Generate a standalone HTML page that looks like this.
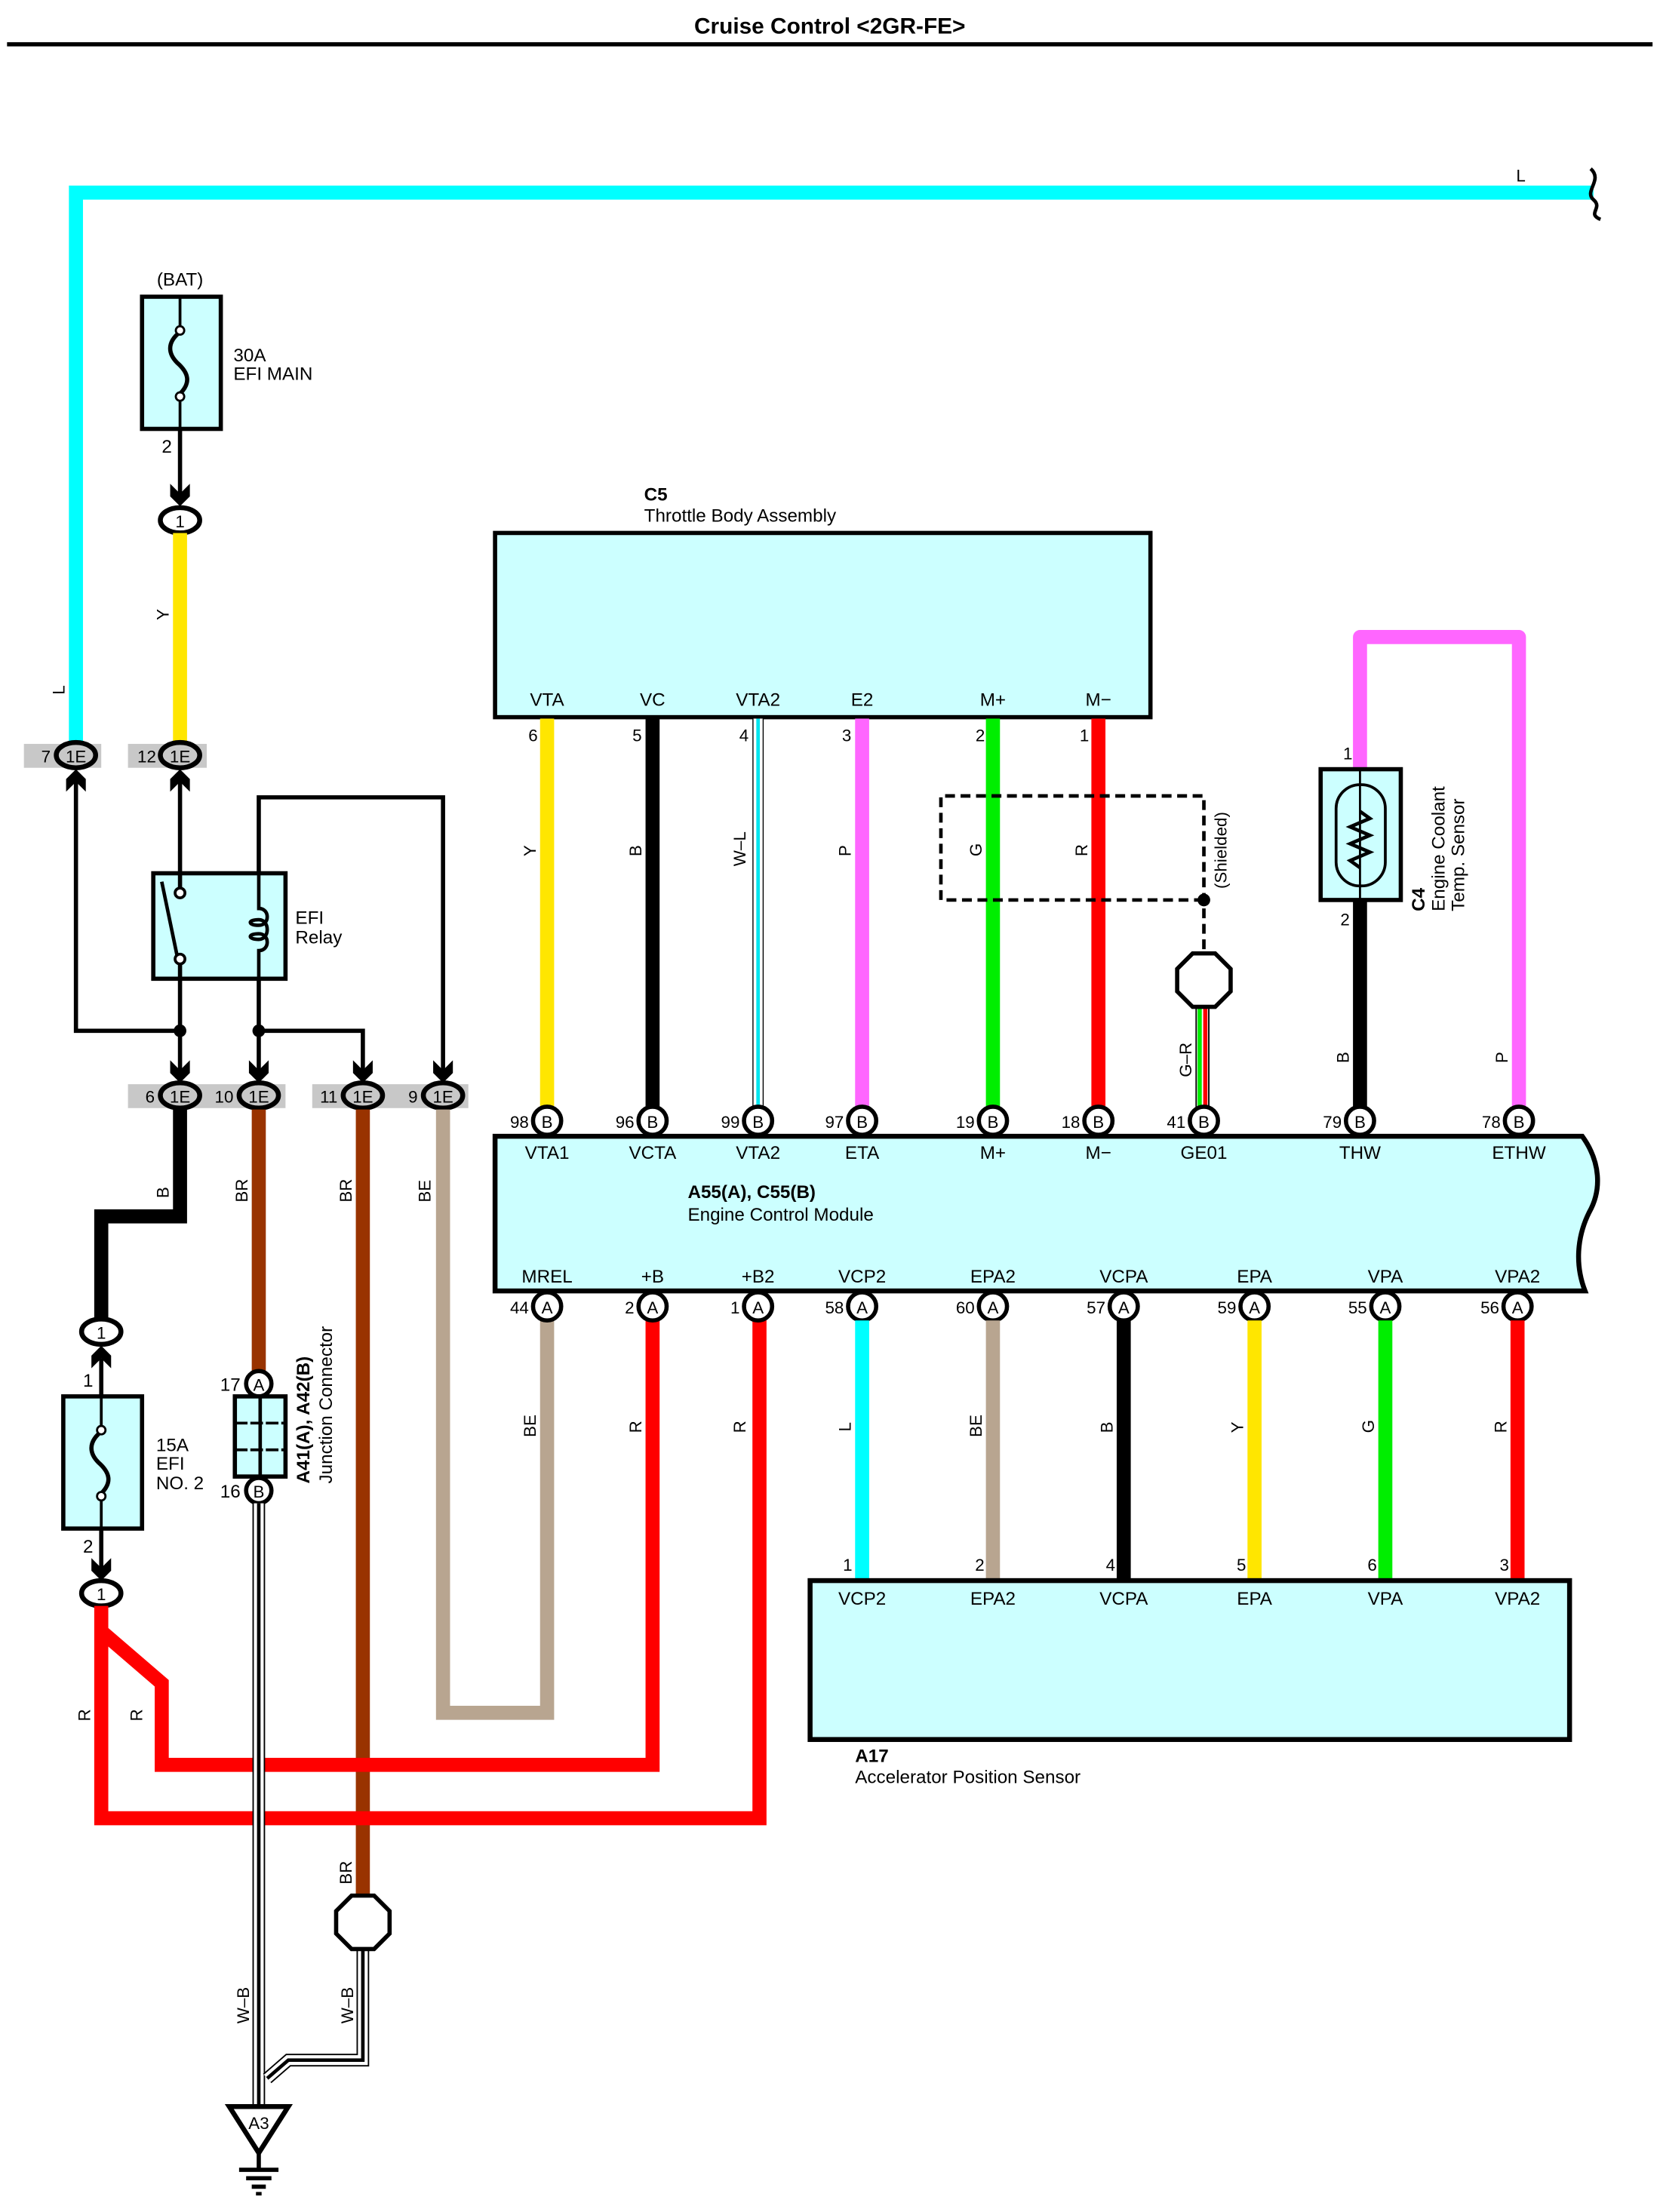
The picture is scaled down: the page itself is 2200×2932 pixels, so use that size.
<!DOCTYPE html>
<html><head><meta charset="utf-8"><style>
html,body{margin:0;padding:0;background:#fff}
svg{display:block}
text{font-family:"Liberation Sans",Arial,sans-serif;fill:#000}
</style></head><body>
<svg width="2200" height="2932" viewBox="0 0 1180.3 1573" preserveAspectRatio="none" xmlns="http://www.w3.org/2000/svg">
<defs>
<path id="ad" d="M-7,-16 L0,-9 L7,-16 L7,-7 L0,0 L-7,-7 Z" fill="#000"/>
<path id="au" d="M-7,16 L0,9 L7,16 L7,7 L0,0 L-7,7 Z" fill="#000"/>
</defs>
<rect width="1181" height="1573" fill="#fff"/>
<text x="590" y="24" font-size="16" font-weight="bold" text-anchor="middle">Cruise Control &lt;2GR-FE&gt;</text>
<rect x="5" y="30" width="1170" height="3" fill="#000"/>

<!-- cyan L top wire -->
<path d="M54,528 V137 H1133" fill="none" stroke="#00ffff" stroke-width="10"/>
<path d="M1131,120 C1140,128 1126,136 1133,142 C1140,148 1128,152 1138,156" fill="none" stroke="#000" stroke-width="2.5"/>
<text x="1078" y="129" font-size="12">L</text>
<text transform="translate(46,494) rotate(-90)" font-size="12">L</text>

<!-- 30A fuse -->
<text x="128" y="203" font-size="13" text-anchor="middle">(BAT)</text>
<rect x="101" y="211" width="56" height="94" fill="#ccffff" stroke="#000" stroke-width="3"/>
<line x1="128" y1="211" x2="128" y2="233" stroke="#000" stroke-width="2"/>
<line x1="128" y1="283" x2="128" y2="305" stroke="#000" stroke-width="2"/>
<path d="M128,236 C118,244 120,252 126,258 C134,265 136,272 128,280" fill="none" stroke="#000" stroke-width="3"/>
<circle cx="128" cy="235" r="3" fill="#fff" stroke="#000" stroke-width="1.5"/>
<circle cx="128" cy="282" r="3" fill="#fff" stroke="#000" stroke-width="1.5"/>
<text x="166" y="257" font-size="13">30A</text>
<text x="166" y="270" font-size="13">EFI MAIN</text>
<text x="115" y="322" font-size="13">2</text>
<line x1="128" y1="305" x2="128" y2="356" stroke="#000" stroke-width="3"/>
<use href="#ad" x="128" y="360"/>
<ellipse cx="128" cy="370" rx="14" ry="9" fill="#fff" stroke="#000" stroke-width="3.5"/>
<text x="128" y="375" font-size="12" text-anchor="middle">1</text>
<line x1="128" y1="379" x2="128" y2="528" stroke="#ffe600" stroke-width="10"/>
<text transform="translate(120,441) rotate(-90)" font-size="12">Y</text>

<!-- 1E top row -->
<rect x="17" y="529" width="55" height="17" fill="#c8c8c8"/>
<rect x="91" y="529" width="56" height="17" fill="#c8c8c8"/>
<ellipse cx="54" cy="537" rx="14" ry="9" fill="#c8c8c8" stroke="#000" stroke-width="3.5"/>
<ellipse cx="128" cy="537" rx="14" ry="9" fill="#c8c8c8" stroke="#000" stroke-width="3.5"/>
<text x="54" y="542" font-size="12" text-anchor="middle">1E</text>
<text x="128" y="542" font-size="12" text-anchor="middle">1E</text>
<text x="36" y="542" font-size="12" text-anchor="end">7</text>
<text x="111" y="542" font-size="12" text-anchor="end">12</text>
<use href="#au" x="54" y="547"/>
<use href="#au" x="128" y="547"/>

<!-- relay wiring -->
<g fill="none" stroke="#000" stroke-width="3">
<path d="M54,556 V733 H128"/>
<path d="M128,556 V621"/>
<path d="M128,696 V764"/>
<path d="M184,696 V764"/>
<path d="M184,621 V567 H315 V764"/>
<path d="M184,733 H258 V764"/>
</g>
<circle cx="128" cy="733" r="4.5" fill="#000"/>
<circle cx="184" cy="733" r="4.5" fill="#000"/>
<rect x="109" y="621" width="94" height="75" fill="#ccffff" stroke="#000" stroke-width="3"/>
<line x1="128" y1="621" x2="128" y2="632" stroke="#000" stroke-width="3"/>
<line x1="128" y1="685" x2="128" y2="696" stroke="#000" stroke-width="3"/>
<circle cx="128" cy="635" r="3.5" fill="#fff" stroke="#000" stroke-width="2"/>
<circle cx="128" cy="682" r="3.5" fill="#fff" stroke="#000" stroke-width="2"/>
<line x1="115" y1="627" x2="126" y2="680" stroke="#000" stroke-width="2.5"/>
<path d="M184,621 V646 C192,646 192,658 184,658 C176,658 176,654 184,654 C192,654 192,668 184,668 C176,668 176,664 184,664 C192,664 192,676 184,676 V696" fill="none" stroke="#000" stroke-width="2.5"/>
<text x="210" y="657" font-size="13">EFI</text>
<text x="210" y="671" font-size="13">Relay</text>

<!-- 1E bottom row -->
<rect x="91" y="771" width="112" height="17" fill="#c8c8c8"/>
<rect x="222" y="771" width="111" height="17" fill="#c8c8c8"/>
<use href="#ad" x="128" y="770"/>
<use href="#ad" x="184" y="770"/>
<use href="#ad" x="258" y="770"/>
<use href="#ad" x="315" y="770"/>
<g fill="#c8c8c8" stroke="#000" stroke-width="3.5">
<ellipse cx="128" cy="779" rx="14" ry="9"/>
<ellipse cx="184" cy="779" rx="14" ry="9"/>
<ellipse cx="258" cy="779" rx="14" ry="9"/>
<ellipse cx="315" cy="779" rx="14" ry="9"/>
</g>
<g font-size="12" text-anchor="middle">
<text x="128" y="784">1E</text><text x="184" y="784">1E</text><text x="258" y="784">1E</text><text x="315" y="784">1E</text>
</g>
<g font-size="12" text-anchor="end">
<text x="110" y="784">6</text><text x="166" y="784">10</text><text x="240" y="784">11</text><text x="297" y="784">9</text>
</g>

<!-- wires below row -->
<path d="M128,789 V865 H72 V938" fill="none" stroke="#000" stroke-width="10"/>
<line x1="184" y1="789" x2="184" y2="975" stroke="#993300" stroke-width="10"/>
<line x1="258" y1="789" x2="258" y2="1350" stroke="#993300" stroke-width="10"/>
<path d="M315,789 V1218 H389 V938" fill="none" stroke="#b8a590" stroke-width="10"/>
<g font-size="12">
<text transform="translate(120,852) rotate(-90)">B</text>
<text transform="translate(176,855) rotate(-90)">BR</text>
<text transform="translate(250,855) rotate(-90)">BR</text>
<text transform="translate(306,855) rotate(-90)">BE</text>
<text transform="translate(250,1340) rotate(-90)">BR</text>
</g>

<!-- 15A fuse -->
<ellipse cx="72" cy="947" rx="14" ry="9" fill="#fff" stroke="#000" stroke-width="3.5"/>
<text x="72" y="952" font-size="12" text-anchor="middle">1</text>
<use href="#au" x="72" y="957"/>
<line x1="72" y1="966" x2="72" y2="1118" stroke="#000" stroke-width="3"/>
<text x="59" y="986" font-size="13">1</text>
<rect x="45" y="993" width="56" height="94" fill="#ccffff" stroke="#000" stroke-width="3"/>
<line x1="72" y1="993" x2="72" y2="1016" stroke="#000" stroke-width="2"/>
<line x1="72" y1="1065" x2="72" y2="1087" stroke="#000" stroke-width="2"/>
<path d="M72,1018 C62,1026 64,1034 70,1040 C78,1047 80,1054 72,1062" fill="none" stroke="#000" stroke-width="3"/>
<circle cx="72" cy="1017" r="3" fill="#fff" stroke="#000" stroke-width="1.5"/>
<circle cx="72" cy="1064" r="3" fill="#fff" stroke="#000" stroke-width="1.5"/>
<text x="111" y="1032" font-size="13">15A</text>
<text x="111" y="1045" font-size="13">EFI</text>
<text x="111" y="1059" font-size="13">NO. 2</text>
<text x="59" y="1104" font-size="13">2</text>
<use href="#ad" x="72" y="1124"/>
<ellipse cx="72" cy="1133" rx="14" ry="9" fill="#fff" stroke="#000" stroke-width="3.5"/>
<text x="72" y="1138" font-size="12" text-anchor="middle">1</text>

<!-- red wires -->
<path d="M72,1142 V1293 H540 V938" fill="none" stroke="#ff0000" stroke-width="10"/>
<path d="M72,1160 L115,1197 V1255 H464 V938" fill="none" stroke="#ff0000" stroke-width="10"/>
<text transform="translate(64,1224) rotate(-90)" font-size="12">R</text>
<text transform="translate(101,1224) rotate(-90)" font-size="12">R</text>

<!-- junction connector -->
<circle cx="184" cy="984" r="9" fill="#fff" stroke="#000" stroke-width="3"/>
<text x="184" y="989" font-size="12" text-anchor="middle">A</text>
<text x="171" y="989" font-size="13" text-anchor="end">17</text>
<rect x="167" y="993" width="36" height="57" fill="#ccffff" stroke="#000" stroke-width="3"/>
<line x1="185" y1="993" x2="185" y2="1050" stroke="#000" stroke-width="2.5"/>
<line x1="167" y1="1012" x2="203" y2="1012" stroke="#000" stroke-width="2" stroke-dasharray="9,2"/>
<line x1="167" y1="1031" x2="203" y2="1031" stroke="#000" stroke-width="2" stroke-dasharray="9,2"/>
<circle cx="184" cy="1060" r="9" fill="#fff" stroke="#000" stroke-width="3"/>
<text x="184" y="1065" font-size="12" text-anchor="middle">B</text>
<text x="171" y="1065" font-size="13" text-anchor="end">16</text>
<text transform="translate(220,1055) rotate(-90)" font-size="13" font-weight="bold">A41(A), A42(B)</text>
<text transform="translate(236,1055) rotate(-90)" font-size="13">Junction Connector</text>

<!-- W-B wires to ground -->
<g fill="none">
<path d="M184,1069 V1497" stroke="#000" stroke-width="9"/>
<path d="M184,1069 V1497" stroke="#fff" stroke-width="7"/>
<path d="M184,1069 V1497" stroke="#000" stroke-width="2.5"/>
<path d="M258,1385 V1465 H205 L190,1478" stroke="#000" stroke-width="9"/>
<path d="M258,1385 V1465 H205 L190,1478" stroke="#fff" stroke-width="7"/>
<path d="M258,1385 V1465 H205 L190,1478" stroke="#000" stroke-width="2.5"/>
</g>
<text transform="translate(177,1439) rotate(-90)" font-size="12">W–B</text>
<text transform="translate(251,1439) rotate(-90)" font-size="12">W–B</text>
<polygon points="250,1348 266,1348 277,1359 277,1375 266,1386 250,1386 239,1375 239,1359" fill="#fff" stroke="#000" stroke-width="3"/>
<polygon points="163,1498 205,1498 184,1531" fill="#fff" stroke="#000" stroke-width="3.5"/>
<text x="184" y="1514" font-size="12" text-anchor="middle">A3</text>
<line x1="184" y1="1531" x2="184" y2="1543" stroke="#000" stroke-width="3"/>
<line x1="170" y1="1543" x2="198" y2="1543" stroke="#000" stroke-width="3"/>
<line x1="175" y1="1549" x2="193" y2="1549" stroke="#000" stroke-width="3"/>
<line x1="179" y1="1555" x2="189" y2="1555" stroke="#000" stroke-width="3"/>
<line x1="182" y1="1560" x2="186" y2="1560" stroke="#000" stroke-width="2.5"/>

<!-- C5 throttle body -->
<text x="458" y="356" font-size="13" font-weight="bold">C5</text>
<text x="458" y="371" font-size="13">Throttle Body Assembly</text>
<rect x="352" y="379" width="466" height="131" fill="#ccffff" stroke="#000" stroke-width="3"/>
<g font-size="13" text-anchor="middle">
<text x="389" y="502">VTA</text><text x="464" y="502">VC</text><text x="539" y="502">VTA2</text>
<text x="613" y="502">E2</text><text x="706" y="502">M+</text><text x="781" y="502">M−</text>
</g>
<g font-size="12" text-anchor="middle">
<text x="379" y="527">6</text><text x="453" y="527">5</text><text x="529" y="527">4</text>
<text x="602" y="527">3</text><text x="697" y="527">2</text><text x="771" y="527">1</text>
</g>
<line x1="389" y1="511" x2="389" y2="788" stroke="#ffe600" stroke-width="10"/>
<line x1="464" y1="511" x2="464" y2="788" stroke="#000" stroke-width="10"/>
<line x1="539" y1="511" x2="539" y2="788" stroke="#000" stroke-width="8"/>
<line x1="539" y1="511" x2="539" y2="788" stroke="#fff" stroke-width="6.5"/>
<line x1="539" y1="511" x2="539" y2="788" stroke="#00e5ee" stroke-width="2.5"/>
<line x1="613" y1="511" x2="613" y2="788" stroke="#ff66ff" stroke-width="10"/>
<line x1="706" y1="511" x2="706" y2="788" stroke="#00ee00" stroke-width="10"/>
<line x1="781" y1="511" x2="781" y2="788" stroke="#ff0000" stroke-width="10"/>
<g font-size="12">
<text transform="translate(381,609) rotate(-90)">Y</text>
<text transform="translate(456,609) rotate(-90)">B</text>
<text transform="translate(530,616) rotate(-90)">W–L</text>
<text transform="translate(605,609) rotate(-90)">P</text>
<text transform="translate(698,609) rotate(-90)">G</text>
<text transform="translate(773,609) rotate(-90)">R</text>
</g>
<!-- shield -->
<path d="M856,640 H669 V566 H856 V697" fill="none" stroke="#000" stroke-width="2.5" stroke-dasharray="7,4"/>
<circle cx="856" cy="640" r="4.5" fill="#000"/>
<text transform="translate(872,632) rotate(-90)" font-size="12">(Shielded)</text>
<line x1="853" y1="716" x2="853" y2="788" stroke="#00ee00" stroke-width="3"/>
<line x1="857" y1="716" x2="857" y2="788" stroke="#ff0000" stroke-width="3"/>
<line x1="850.5" y1="716" x2="850.5" y2="788" stroke="#000" stroke-width="1"/>
<line x1="859.5" y1="716" x2="859.5" y2="788" stroke="#000" stroke-width="1"/>
<polygon points="848,678 864,678 875,689 875,705 864,716 848,716 837,705 837,689" fill="#fff" stroke="#000" stroke-width="3"/>
<text transform="translate(847,766) rotate(-90)" font-size="12">G–R</text>

<!-- C4 sensor -->
<path d="M967,547 V453 H1080 V788" fill="none" stroke="#ff66ff" stroke-width="10" stroke-linejoin="round"/>
<line x1="967" y1="640" x2="967" y2="788" stroke="#000" stroke-width="10"/>
<rect x="939" y="547" width="57" height="93" fill="#ccffff" stroke="#000" stroke-width="3"/>
<line x1="967" y1="547" x2="967" y2="640" stroke="#000" stroke-width="1.5"/>
<rect x="950" y="558" width="35" height="72" rx="17" fill="none" stroke="#000" stroke-width="2"/>
<path d="M967,577 L974,582 L960,588 L974,594 L960,600 L974,606 L960,612 L967,617" fill="none" stroke="#000" stroke-width="2.5"/>
<text x="955" y="540" font-size="12">1</text>
<text x="953" y="658" font-size="12">2</text>
<text transform="translate(1013,648) rotate(-90)" font-size="13" font-weight="bold">C4</text>
<text transform="translate(1027,648) rotate(-90)" font-size="13">Engine Coolant</text>
<text transform="translate(1041,648) rotate(-90)" font-size="13">Temp.  Sensor</text>
<text transform="translate(959,756) rotate(-90)" font-size="12">B</text>
<text transform="translate(1072,756) rotate(-90)" font-size="12">P</text>

<!-- ECM -->
<path d="M352,808 H1125 C1138,826 1139,846 1130,862 C1121,880 1120,900 1127,918 H352 Z" fill="#ccffff" stroke="#000" stroke-width="3.5"/>
<g fill="#fff" stroke="#000" stroke-width="3">
<circle cx="389" cy="797" r="10"/><circle cx="464" cy="797" r="10"/><circle cx="539" cy="797" r="10"/>
<circle cx="613" cy="797" r="10"/><circle cx="706" cy="797" r="10"/><circle cx="781" cy="797" r="10"/>
<circle cx="856" cy="797" r="10"/><circle cx="967" cy="797" r="10"/><circle cx="1080" cy="797" r="10"/>
<circle cx="389" cy="929" r="10"/><circle cx="464" cy="929" r="10"/><circle cx="539" cy="929" r="10"/>
<circle cx="613" cy="929" r="10"/><circle cx="706" cy="929" r="10"/><circle cx="799" cy="929" r="10"/>
<circle cx="892" cy="929" r="10"/><circle cx="985" cy="929" r="10"/><circle cx="1079" cy="929" r="10"/>
</g>
<g font-size="12" text-anchor="middle">
<text x="389" y="802">B</text><text x="464" y="802">B</text><text x="539" y="802">B</text>
<text x="613" y="802">B</text><text x="706" y="802">B</text><text x="781" y="802">B</text>
<text x="856" y="802">B</text><text x="967" y="802">B</text><text x="1080" y="802">B</text>
<text x="389" y="934">A</text><text x="464" y="934">A</text><text x="539" y="934">A</text>
<text x="613" y="934">A</text><text x="706" y="934">A</text><text x="799" y="934">A</text>
<text x="892" y="934">A</text><text x="985" y="934">A</text><text x="1079" y="934">A</text>
</g>
<g font-size="12" text-anchor="end">
<text x="376" y="802">98</text><text x="451" y="802">96</text><text x="526" y="802">99</text>
<text x="600" y="802">97</text><text x="693" y="802">19</text><text x="768" y="802">18</text>
<text x="843" y="802">41</text><text x="954" y="802">79</text><text x="1067" y="802">78</text>
<text x="376" y="934">44</text><text x="451" y="934">2</text><text x="526" y="934">1</text>
<text x="600" y="934">58</text><text x="693" y="934">60</text><text x="786" y="934">57</text>
<text x="879" y="934">59</text><text x="972" y="934">55</text><text x="1066" y="934">56</text>
</g>
<g font-size="13" text-anchor="middle">
<text x="389" y="824">VTA1</text><text x="464" y="824">VCTA</text><text x="539" y="824">VTA2</text>
<text x="613" y="824">ETA</text><text x="706" y="824">M+</text><text x="781" y="824">M−</text>
<text x="856" y="824">GE01</text><text x="967" y="824">THW</text><text x="1080" y="824">ETHW</text>
<text x="389" y="912">MREL</text><text x="464" y="912">+B</text><text x="539" y="912">+B2</text>
<text x="613" y="912">VCP2</text><text x="706" y="912">EPA2</text><text x="799" y="912">VCPA</text>
<text x="892" y="912">EPA</text><text x="985" y="912">VPA</text><text x="1079" y="912">VPA2</text>
</g>
<text x="489" y="852" font-size="13" font-weight="bold">A55(A), C55(B)</text>
<text x="489" y="868" font-size="13">Engine Control Module</text>

<!-- ECM to A17 wires -->
<line x1="613" y1="939" x2="613" y2="1123" stroke="#00ffff" stroke-width="10"/>
<line x1="706" y1="939" x2="706" y2="1123" stroke="#b8a590" stroke-width="10"/>
<line x1="799" y1="939" x2="799" y2="1123" stroke="#000" stroke-width="10"/>
<line x1="892" y1="939" x2="892" y2="1123" stroke="#ffe600" stroke-width="10"/>
<line x1="985" y1="939" x2="985" y2="1123" stroke="#00ee00" stroke-width="10"/>
<line x1="1079" y1="939" x2="1079" y2="1123" stroke="#ff0000" stroke-width="10"/>
<g font-size="12">
<text transform="translate(381,1022) rotate(-90)">BE</text>
<text transform="translate(456,1019) rotate(-90)">R</text>
<text transform="translate(530,1019) rotate(-90)">R</text>
<text transform="translate(605,1018) rotate(-90)">L</text>
<text transform="translate(698,1022) rotate(-90)">BE</text>
<text transform="translate(791,1019) rotate(-90)">B</text>
<text transform="translate(884,1019) rotate(-90)">Y</text>
<text transform="translate(977,1019) rotate(-90)">G</text>
<text transform="translate(1071,1019) rotate(-90)">R</text>
</g>

<!-- A17 -->
<rect x="576" y="1124" width="540" height="113" fill="#ccffff" stroke="#000" stroke-width="3.5"/>
<g font-size="12" text-anchor="end">
<text x="606" y="1117">1</text><text x="700" y="1117">2</text><text x="793" y="1117">4</text>
<text x="886" y="1117">5</text><text x="979" y="1117">6</text><text x="1073" y="1117">3</text>
</g>
<g font-size="13" text-anchor="middle">
<text x="613" y="1141">VCP2</text><text x="706" y="1141">EPA2</text><text x="799" y="1141">VCPA</text>
<text x="892" y="1141">EPA</text><text x="985" y="1141">VPA</text><text x="1079" y="1141">VPA2</text>
</g>
<text x="608" y="1253" font-size="13" font-weight="bold">A17</text>
<text x="608" y="1268" font-size="13">Accelerator Position Sensor</text>
</svg>
</body></html>
